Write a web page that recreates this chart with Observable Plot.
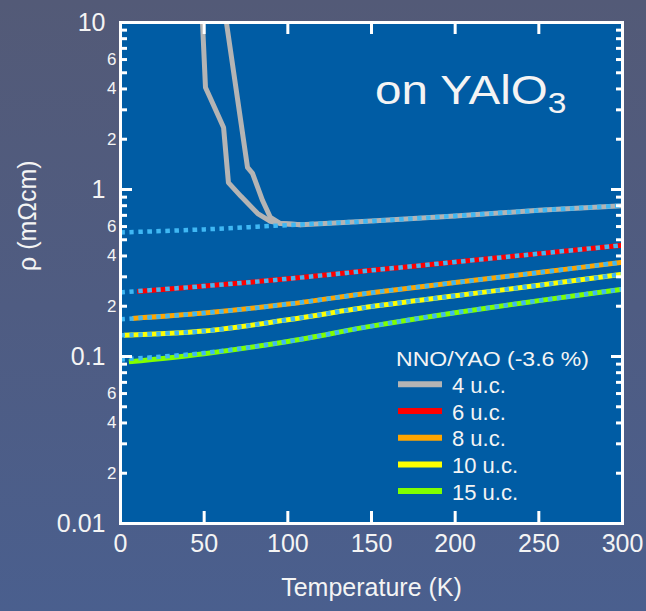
<!DOCTYPE html>
<html>
<head>
<meta charset="utf-8">
<script src="https://cdn.jsdelivr.net/npm/d3@7"></script>
<script src="https://cdn.jsdelivr.net/npm/@observablehq/plot@0.6"></script>
<style>
  html, body { margin: 0; padding: 0; }
  body {
    width: 646px; height: 611px; overflow: hidden;
    background: linear-gradient(180deg, #535a77 0%, #4f5c82 50%, #4a5f8e 100%);
    font-family: "Liberation Sans", Arial, sans-serif;
  }
  #chart svg { display: block; }
</style>
</head>
<body>
<div id="chart"></div>
<script>
// ---- Data (T in K, rho in mOhm cm) ----
const fitTemps = [0, 50, 100, 150, 200, 250, 300];
const fit4  = [0.553, 0.577, 0.612, 0.648, 0.695, 0.750, 0.800];
const fit6  = [0.242, 0.264, 0.292, 0.328, 0.368, 0.413, 0.464];
const fit8  = [0.167, 0.182, 0.206, 0.241, 0.277, 0.318, 0.367];
const fit10 = [0.134, 0.142, 0.166, 0.199, 0.231, 0.267, 0.311];
const fit15 = [0.096, 0.105, 0.123, 0.152, 0.183, 0.216, 0.253];

// measured curves
const grayAT = [49, 50.8, 53.8, 61.6, 64.5, 72, 82, 89.6, 96, 108, 150, 200, 250, 300];
const grayAV = [10, 4.08, 3.51, 2.35, 1.10, 0.91, 0.718, 0.645, 0.625, 0.615, 0.648, 0.695, 0.750, 0.800];
const grayBT = [63.3, 75.9, 78.9, 84.9, 89.6, 95.6, 108];
const grayBV = [10, 1.356, 1.248, 0.859, 0.680, 0.625, 0.615];
const red6T = [10, 50, 100, 150, 200, 250, 300];
const red6V = [0.245, 0.264, 0.292, 0.328, 0.368, 0.413, 0.464];
const or8T  = [7, 50, 100, 150, 200, 250, 300];
const or8V  = [0.169, 0.182, 0.206, 0.241, 0.277, 0.318, 0.367];
const ye10T = [2, 50, 100, 150, 200, 250, 300];
const ye10V = [0.134, 0.142, 0.166, 0.199, 0.231, 0.267, 0.311];
const gr15T = [5, 50, 100, 150, 200, 250, 300];
const gr15V = [0.093, 0.104, 0.123, 0.152, 0.183, 0.216, 0.253];

const seriesLabels = ["4 u.c.", "6 u.c.", "8 u.c.", "10 u.c.", "15 u.c."];
const seriesColors = ["#b4b4b4", "#ff0000", "#ffa500", "#ffff00", "#80ff00"];
const legendTitle = "NNO/YAO (-3.6 %)";
const fitColor = "#3fb8f4";

const xTicks = [0, 50, 100, 150, 200, 250, 300];
const xInnerTicks = [50, 100, 150, 200, 250];
const yMajor = [0.01, 0.1, 1, 10];
const yMajorLabels = ["0.01", "0.1", "1", "10"];
const yMajorInner = [0.1, 1];
const yMinor = [0.02,0.03,0.04,0.05,0.06,0.07,0.08,0.09, 0.2,0.3,0.4,0.5,0.6,0.7,0.8,0.9, 2,3,4,5,6,7,8,9];
const yMinorLabeled = [0.02, 0.04, 0.06, 0.2, 0.4, 0.6, 2, 4, 6];
const yMinorLabels = ["2", "4", "6", "2", "4", "6", "2", "4", "6"];
const xTitle = "Temperature (K)";
const yTitle = "ρ (mΩcm)";

// ---- build tables ----
const pts = (T, V) => T.map((t, i) => ({T: t, v: V[i]}));
const fits = [fit4, fit6, fit8, fit10, fit15].map(V => pts(fitTemps, V));
const solids = [
  {d: pts(grayAT, grayAV), c: seriesColors[0], curve: "linear"},
  {d: pts(grayBT, grayBV), c: seriesColors[0], curve: "linear"},
  {d: pts(red6T, red6V), c: seriesColors[1], curve: "catmull-rom"},
  {d: pts(or8T, or8V), c: seriesColors[2], curve: "catmull-rom"},
  {d: pts(ye10T, ye10V), c: seriesColors[3], curve: "catmull-rom"},
  {d: pts(gr15T, gr15V), c: seriesColors[4], curve: "catmull-rom"}
];
const majorRows = yMajor.map((v, i) => ({v, t: yMajorLabels[i]}));
const minorRows = yMinorLabeled.map((v, i) => ({v, t: yMinorLabels[i]}));

const W = 646, H = 611, mL = 120, mR = 24, mT = 22, mB = 88;
const iw = W - mL - mR, ih = H - mT - mB;
const white = "#f4f4f4";

const marks = [Plot.frame({fill: "#005ca4", stroke: null})];
for (const s of solids) {
  marks.push(Plot.line(s.d, {x: "T", y: "v", stroke: s.c, strokeWidth: 5, curve: s.curve, strokeLinecap: "butt", strokeLinejoin: "round"}));
}
for (const f of fits) {
  marks.push(Plot.line(f, {x: "T", y: "v", stroke: fitColor, strokeWidth: 4.5, strokeDasharray: "4.5,4.5", strokeLinecap: "butt", curve: "catmull-rom"}));
}
marks.push(
  Plot.frame({stroke: "white", strokeWidth: 3}),
  // left ticks
  Plot.tickY(yMajorInner, {y: d => d, stroke: "white", strokeWidth: 3, insetRight: iw - 12}),
  Plot.tickY(yMinor, {y: d => d, stroke: "white", strokeWidth: 3, insetRight: iw - 7}),
  // right ticks
  Plot.tickY(yMajorInner, {y: d => d, stroke: "white", strokeWidth: 3, insetLeft: iw - 11}),
  Plot.tickY(yMinor, {y: d => d, stroke: "white", strokeWidth: 3, insetLeft: iw - 6}),
  // bottom / top ticks
  Plot.tickX(xInnerTicks, {x: d => d, stroke: "white", strokeWidth: 3, insetTop: ih - 12}),
  Plot.tickX(xInnerTicks, {x: d => d, stroke: "white", strokeWidth: 3, insetBottom: ih - 12}),
  // y tick labels
  Plot.text(majorRows, {y: "v", text: "t", frameAnchor: "left", dx: -15, textAnchor: "end", fontSize: 25, fill: white}),
  Plot.text(minorRows, {y: "v", text: "t", frameAnchor: "left", dx: -4, textAnchor: "end", fontSize: 17, fill: white}),
  // x tick labels
  Plot.text(xTicks, {x: d => d, text: d => String(d), frameAnchor: "bottom", dy: 28, fontSize: 25, fill: white}),
  Plot.text([xTitle], {text: d => d, frameAnchor: "bottom", dy: 72, fontSize: 25, fill: white}),
  Plot.text([yTitle], {text: d => d, frameAnchor: "left", rotate: -90, dx: -93, dy: -2, fontSize: 25, fill: white})
);

const svg = Plot.plot({
  width: W, height: H,
  marginLeft: mL, marginRight: mR, marginTop: mT, marginBottom: mB,
  x: {domain: [0, 300], axis: null},
  y: {type: "log", domain: [0.01, 10], axis: null},
  style: {background: "transparent", color: white, fontFamily: "'Liberation Sans', Arial, sans-serif", overflow: "visible"},
  marks
});
document.getElementById("chart").appendChild(svg);

// ---- annotation + legend (real SVG text) ----
const sel = d3.select(svg);
const ttl = sel.append("text")
  .attr("transform", "translate(375,104) scale(1.16,1)")
  .attr("text-anchor", "start")
  .attr("fill", white)
  .style("font-family", "'Liberation Sans', Arial, sans-serif")
  .attr("font-size", 41);
ttl.append("tspan").text("on YAlO");
ttl.append("tspan").attr("font-size", 29).attr("dy", 9).text("3");

const lg = sel.append("g").attr("text-anchor", "start").style("font-family", "'Liberation Sans', Arial, sans-serif");
lg.append("text").attr("x", 396).attr("y", 366).attr("fill", white).attr("font-size", 21)
  .attr("textLength", 193).attr("lengthAdjust", "spacingAndGlyphs").text(legendTitle);
seriesLabels.forEach((lab, i) => {
  const yc = 384.3 + i * 26.7;
  lg.append("line").attr("x1", 398).attr("x2", 442).attr("y1", yc).attr("y2", yc)
    .attr("stroke", seriesColors[i]).attr("stroke-width", 6);
  lg.append("text").attr("x", 452).attr("y", yc + 8.5).attr("fill", white).attr("font-size", 22)
    .text(lab);
});
</script>
</body>
</html>
